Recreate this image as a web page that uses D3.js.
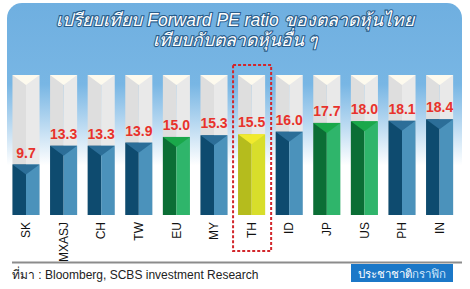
<!DOCTYPE html>
<html>
<head>
<meta charset="utf-8">
<script src="https://cdn.jsdelivr.net/npm/d3@7"></script>
<style>
  body { margin: 0; background: #fff; }
  svg { display: block; font-family: "Liberation Sans", Arial, sans-serif; }
</style>
</head>
<body>
<div class="visual-data"></div>
<script>
const width = 470;
const height = 289;

// data
const markets = ["SK", "MXASJ", "CH", "TW", "EU", "MY", "TH", "ID", "JP", "US", "PH", "IN"];
const peValues = [9.7, 13.3, 13.3, 13.9, 15.0, 15.3, 15.5, 16.0, 17.7, 18.0, 18.1, 18.4];
const barGroups = ["blue", "blue", "blue", "blue", "green", "blue", "thai", "blue", "green", "green", "blue", "blue"];
const titleLines = ["เปรียบเทียบ Forward PE ratio ของตลาดหุ้นไทย", "เทียบกับตลาดหุ้นอื่น ๆ"];
const sourceText = "ที่มา : Bloomberg, SCBS investment Research";

const palette = {
  blue:  { left: "#0e4b6f", right: "#4b92bb", top: "#2c6e98" },
  green: { left: "#0b6e35", right: "#2fb56b", top: "#1aa84a" },
  thai:  { left: "#b5bc1d", right: "#d8de2b", top: "#f1ea2e" }
};

const rows = markets.map((m, i) => ({ name: m, value: peValues[i], group: barGroups[i] }));

const svg = d3.select(".visual-data").append("svg")
  .attr("width", width)
  .attr("height", height);

const defs = svg.append("defs");
const grad = defs.append("linearGradient")
  .attr("id", "panelGrad")
  .attr("x1", 0).attr("y1", 0).attr("x2", 0).attr("y2", 1);
grad.append("stop").attr("offset", "0%").attr("stop-color", "#6fafe0");
grad.append("stop").attr("offset", "28%").attr("stop-color", "#78b6e4");
grad.append("stop").attr("offset", "40%").attr("stop-color", "#b0d4ef");
grad.append("stop").attr("offset", "56%").attr("stop-color", "#ffffff");
grad.append("stop").attr("offset", "100%").attr("stop-color", "#ffffff");

// background panel
svg.append("rect")
  .attr("x", 7).attr("y", 3)
  .attr("width", 455).attr("height", 290)
  .attr("rx", 15)
  .attr("fill", "url(#panelGrad)");

// title
svg.selectAll(".title")
  .data(titleLines)
  .enter().append("text")
  .attr("class", "title")
  .attr("x", 235)
  .attr("y", (d, i) => 26 + i * 20)
  .attr("text-anchor", "middle")
  .style("font-size", "17.5px")
  .style("font-style", "italic")
  .style("fill", "#fff")
  .style("stroke", "#2a5d8a")
  .style("stroke-width", 2.2)
  .style("paint-order", "stroke")
  .text(d => d);

// scales
const xScale = d3.scaleBand()
  .domain(markets)
  .range([7.2, 458.4])
  .paddingInner(0.28)
  .paddingOuter(0.14);

const yScale = d3.scaleLinear()
  .domain([0, 26.9])
  .range([215, 75]);

const bw = xScale.bandwidth();
const capDepth = 10;

const cols = svg.selectAll(".col")
  .data(rows)
  .enter().append("g")
  .attr("class", "col")
  .attr("transform", d => "translate(" + xScale(d.name) + ",0)");

// grey pillar
const yTop = yScale(26.9);
const y0 = yScale(0);
cols.append("rect")
  .attr("x", 0).attr("y", yTop)
  .attr("width", bw / 2).attr("height", y0 - yTop)
  .attr("fill", "#dedede");
cols.append("rect")
  .attr("x", bw / 2).attr("y", yTop)
  .attr("width", bw / 2).attr("height", y0 - yTop)
  .attr("fill", "#e9e9e9");
cols.append("path")
  .attr("d", "M0," + yTop + "L" + bw + "," + yTop + "L" + (bw / 2) + "," + (yTop + capDepth) + "Z")
  .attr("fill", "#fdfaee");

// coloured value bar
cols.append("rect")
  .attr("x", 0).attr("y", d => yScale(d.value))
  .attr("width", bw / 2).attr("height", d => y0 - yScale(d.value))
  .attr("fill", d => palette[d.group].left);
cols.append("rect")
  .attr("x", bw / 2).attr("y", d => yScale(d.value))
  .attr("width", bw / 2).attr("height", d => y0 - yScale(d.value))
  .attr("fill", d => palette[d.group].right);
cols.append("path")
  .attr("d", d => {
    const t = yScale(d.value);
    return "M0," + t + "L" + bw + "," + t + "L" + (bw / 2) + "," + (t + capDepth) + "Z";
  })
  .attr("fill", d => palette[d.group].top);

// value labels
cols.append("text")
  .attr("x", bw / 2)
  .attr("y", d => yScale(d.value) - 7)
  .attr("text-anchor", "middle")
  .style("font-size", "14px")
  .style("font-weight", "bold")
  .style("fill", "#e8322b")
  .text(d => d.value.toFixed(1));

// x axis labels (rotated)
const xAxis = d3.axisBottom(xScale).tickSize(0).tickPadding(0);
const axisG = svg.append("g")
  .attr("transform", "translate(0," + (y0 + 7) + ")")
  .call(xAxis);
axisG.select(".domain").remove();
axisG.selectAll("text")
  .attr("transform", "rotate(-90)")
  .attr("x", 0).attr("y", 0).attr("dy", "0.35em")
  .attr("text-anchor", "end")
  .style("font-size", "12px")
  .style("font-family", "'Liberation Sans', Arial, sans-serif")
  .style("fill", "#111");

// dashed highlight round TH
svg.append("rect")
  .attr("x", xScale("TH") - 5)
  .attr("y", 65)
  .attr("width", bw + 11)
  .attr("height", 186)
  .attr("fill", "none")
  .attr("stroke", "#d2262b")
  .attr("stroke-width", 2)
  .attr("stroke-dasharray", "3,2");

// footer
svg.append("line")
  .attr("x1", 12).attr("x2", 462)
  .attr("y1", 262.5).attr("y2", 262.5)
  .attr("stroke", "#8c8c8c")
  .attr("stroke-width", 2);

svg.append("text")
  .attr("x", 12).attr("y", 279)
  .style("font-size", "12px")
  .style("fill", "#222")
  .text(sourceText);

svg.append("rect")
  .attr("x", 351).attr("y", 264)
  .attr("width", 102).attr("height", 18)
  .attr("fill", "#1b78c8");
const brand = svg.append("text")
  .attr("x", 402).attr("y", 277.5)
  .attr("text-anchor", "middle")
  .style("font-size", "11.5px")
  .style("fill", "#fff");
brand.append("tspan").text("ประชาชาติ");
brand.append("tspan").style("fill", "#cfe6fb").text("กราฟิก");
</script>
</body>
</html>
